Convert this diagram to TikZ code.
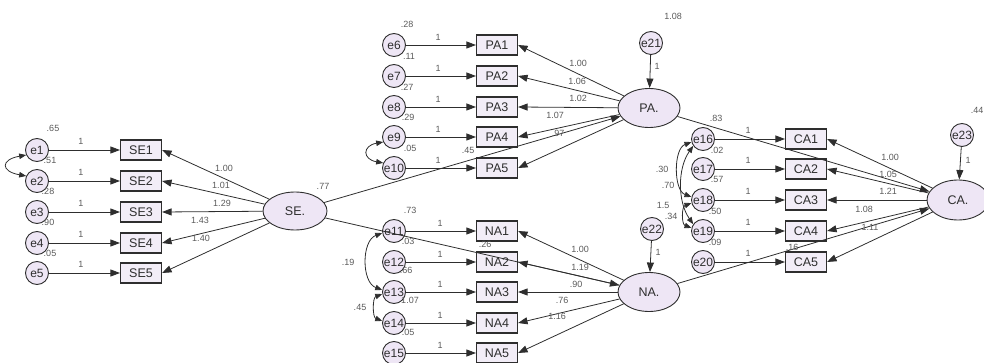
\documentclass[tikz,border=0pt]{standalone}
\usepackage{fontspec}
\setmainfont{Liberation Sans}
\usetikzlibrary{shapes.geometric,arrows.meta}
\definecolor{lav}{HTML}{EEE6F5}
\definecolor{lavbox}{HTML}{F2EDF7}
\definecolor{ink}{HTML}{2E2E2E}
\definecolor{lblc}{HTML}{5A5A5A}
\begin{document}
\begin{tikzpicture}[x=1pt,y=-1pt,
  errc/.style={circle,draw=ink,line width=0.9pt,fill=lav,minimum size=23pt,inner sep=0pt,font=\fontsize{12}{14}\selectfont,text=ink},
  obsbox/.style={rectangle,draw=ink,line width=1.1pt,fill=lavbox,minimum width=41pt,minimum height=20pt,inner sep=0pt,font=\fontsize{12.5}{14}\selectfont,text=ink},
  latent/.style={ellipse,draw=ink,line width=0.9pt,fill=lav,minimum width=64pt,minimum height=38pt,inner sep=0pt,font=\fontsize{12.5}{14}\selectfont,text=ink},
  reg/.style={draw=ink,line width=0.8pt,-{Triangle[length=9.5pt,width=7pt]}},
  cov/.style={draw=ink,line width=0.8pt,{Triangle[length=7pt,width=5.5pt]}-{Triangle[length=7pt,width=5.5pt]}},
  lbl/.style={font=\fontsize{9}{10}\selectfont,text=lblc,inner sep=0pt}]
\useasboundingbox (0,0) rectangle (984,363);

% ---------------- latent variables ----------------
\node[latent] (SE) at (295,211) {SE.};
\node[latent,minimum width=62pt,minimum height=39pt] (PA) at (649,108) {PA.};
\node[latent,minimum width=62pt,minimum height=39pt] (NA) at (649,292) {NA.};
\node[latent,minimum width=62pt,minimum height=40pt] (CA) at (958,200) {CA.};

\node[errc] (e21) at (651,43) {e21};
\node[errc] (e22) at (652,229) {e22};
\node[errc] (e23) at (962,135) {e23};

% ---------------- SE block ----------------
\foreach \i/\y in {1/150,2/181,3/212,4/243,5/273}{
  \node[errc] (e\i) at (37,\y) {e\i};
  \node[obsbox] (SE\i) at (141,\y) {SE\i};
  \draw[reg] (e\i) -- (SE\i);
  \draw[reg] (SE) -- (SE\i.east);
  \node[lbl] (o\i) at (81,\y-9) {1};
}
% ---------------- PA block ----------------
\foreach \i/\j/\y in {6/1/45,7/2/76,8/3/107,9/4/137,10/5/168}{
  \node[errc] (e\i) at (394,\y) {e\i};
  \node[obsbox] (PA\j) at (497,\y) {PA\j};
  \draw[reg] (e\i) -- (PA\j);
  \draw[reg] (PA) -- (PA\j.east);
  \node[lbl] (o\i) at (438,\y-8) {1};
}
% ---------------- NA block ----------------
\foreach \i/\j/\y in {11/1/231,12/2/262,13/3/292,14/4/323,15/5/353}{
  \node[errc] (e\i) at (394,\y) {e\i};
  \node[obsbox] (NA\j) at (497,\y) {NA\j};
  \draw[reg] (e\i) -- (NA\j);
  \draw[reg] (NA) -- (NA\j.east);
  \node[lbl] (o\i) at (440,\y-8) {1};
}
% ---------------- CA block ----------------
\foreach \i/\j/\y in {16/1/139,17/2/169,18/3/200,19/4/231,20/5/262}{
  \node[errc] (e\i) at (703,\y) {e\i};
  \node[obsbox] (CA\j) at (806,\y) {CA\j};
  \draw[reg] (e\i) -- (CA\j);
  \draw[reg] (CA) -- (CA\j.east);
  \node[lbl] (o\i) at (748,\y-9) {1};
}

% ---------------- structural paths ----------------
\draw[reg] (e21) -- (PA);
\draw[reg] (e22) -- (NA);
\draw[reg] (e23) -- (CA);
\draw[reg] (SE) -- (PA);
\draw[reg] (SE) -- (NA);
\draw[reg] (PA) -- (CA);
\draw[reg] (NA) -- (CA);

% ---------------- covariances ----------------
\draw[cov] (e1.205) to[out=190,in=170,looseness=3.2] (e2.155);
\draw[cov] (e9.205) to[out=190,in=170,looseness=2.6] (e10.155);
\draw[cov] (e11.190) to[out=200,in=160,looseness=1.0] (e13.170);
\draw[cov] (e13.190) to[out=200,in=160,looseness=1.0] (e14.170);
\draw[cov] (e16.195) to[out=200,in=160,looseness=0.9] (e18.165);
\draw[cov] (e16.215) to[out=235,in=125,looseness=0.9] (e19.145);
\draw[cov] (e18.195) to[out=200,in=160,looseness=1.1] (e19.165);

% ---------------- estimates ----------------
\node[lbl] (v1) at (53,128) {.65};
\node[lbl] (v2) at (50,160) {.51};
\node[lbl] (v3) at (48,191) {.28};
\node[lbl] (v4) at (48,222) {.90};
\node[lbl] (v5) at (50,253) {.05};
\node[lbl] (l1) at (224,168) {1.00};
\node[lbl] (l2) at (221,185) {1.01};
\node[lbl] (l3) at (222,203) {1.29};
\node[lbl] (l4) at (200,220) {1.43};
\node[lbl] (l5) at (201,238) {1.40};
\node[lbl] (vSE) at (323,186) {.77};

\node[lbl] (v6) at (407,24) {.28};
\node[lbl] (v7) at (409,56) {.11};
\node[lbl] (v8) at (407,87) {.27};
\node[lbl] (v9) at (408,117) {.29};
\node[lbl] (v10) at (410,148) {.05};
\node[lbl] (l6) at (578,63) {1.00};
\node[lbl] (l7) at (577,81) {1.06};
\node[lbl] (l8) at (578,98) {1.02};
\node[lbl] (l9) at (555,115) {1.07};
\node[lbl] (l10) at (558,133) {.97};
\node[lbl] (sp1) at (468,150) {.45};
\node[lbl] (v21) at (673,16) {1.08};
\node[lbl] (o21) at (657,66) {1};

\node[lbl] (v11) at (410,210) {.73};
\node[lbl] (v12) at (408,241) {.03};
\node[lbl] (v13) at (406,270) {.66};
\node[lbl] (v14) at (410,300) {1.07};
\node[lbl] (v15) at (408,332) {.05};
\node[lbl] (l11) at (580,249) {1.00};
\node[lbl] (l12) at (580,267) {1.19};
\node[lbl] (l13) at (576,284) {.90};
\node[lbl] (l14) at (562,300) {.76};
\node[lbl] (l15) at (557,316) {1.16};
\node[lbl] (sp2) at (485,244) {.26};
\node[lbl] (o22) at (658,252) {1};
\node[lbl] (c1) at (348,262) {.19};
\node[lbl] (c2) at (360,307) {.45};

\node[lbl] (v16) at (716,118) {.83};
\node[lbl] (v17) at (717,150) {.02};
\node[lbl] (v18) at (717,179) {.57};
\node[lbl] (v19) at (715,211) {.50};
\node[lbl] (v20) at (715,242) {.09};
\node[lbl] (l16) at (890,157) {1.00};
\node[lbl] (l17) at (888,174) {1.05};
\node[lbl] (l18) at (888,191) {1.21};
\node[lbl] (l19) at (864,209) {1.08};
\node[lbl] (l20) at (870,227) {1.11};
\node[lbl] (sp4) at (792,247) {.16};
\node[lbl] (v23) at (977,110) {.44};
\node[lbl] (o23) at (968,160) {1};
\node[lbl] (c3) at (662,169) {.30};
\node[lbl] (c4) at (668,185) {.70};
\node[lbl] (c5) at (663,205) {1.5};
\node[lbl] (c6) at (671,216) {.34};
\end{tikzpicture}
\end{document}
